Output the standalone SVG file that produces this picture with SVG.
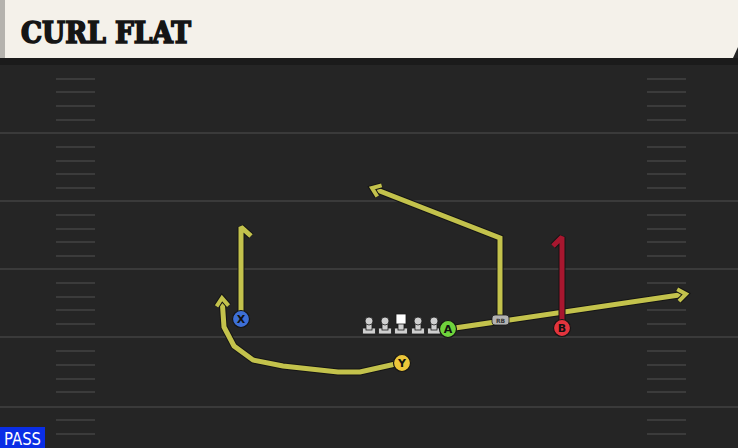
<svg xmlns="http://www.w3.org/2000/svg" width="738" height="448" viewBox="0 0 738 448">
<defs>
<style>
.yl{stroke:#3a3a3a;stroke-width:2}
.hm{stroke:#3b3b3b;stroke-width:2}
.ol{fill:none;stroke:#151515;stroke-width:7;stroke-linejoin:miter;stroke-linecap:butt}
.ry{fill:none;stroke:#c3c24c;stroke-width:5;stroke-linejoin:miter;stroke-linecap:butt}
.rr{fill:none;stroke:#a8172f;stroke-width:5;stroke-linejoin:bevel;stroke-linecap:butt}
.bv{stroke-linejoin:bevel}
.ring{stroke:#151515;stroke-width:1.2}
.lbl{font-family:"DejaVu Sans","Liberation Sans",sans-serif;font-weight:bold;font-size:11px;fill:#111;text-anchor:middle}
.lm{fill:#cfcfcf;stroke:#1a1a1a;stroke-width:0.8}
</style>
<marker id="arr" markerUnits="userSpaceOnUse" orient="auto" overflow="visible" markerWidth="1" markerHeight="1" refX="0" refY="0">
<path d="M-8,-6 L0,0 L-8,6" fill="none" stroke="#151515" stroke-width="6" stroke-linejoin="miter"/>
<path d="M-8,-6 L0,0 L-8,6" fill="none" stroke="#c3c24c" stroke-width="4" stroke-linejoin="miter"/>
</marker>
<g id="lineman">
<rect x="-6.5" y="11" width="13" height="6" rx="1" class="lm"/>
<rect x="-3" y="5" width="6" height="8" class="lm"/>
<circle cx="0" cy="4" r="4" class="lm"/>
</g>
</defs>
<rect x="0" y="0" width="738" height="448" fill="#252525"/>
<rect x="0" y="58" width="738" height="7" fill="#1b1b1b"/>
<g id="field">
<line x1="0" y1="133" x2="738" y2="133" class="yl"/>
<line x1="0" y1="201" x2="738" y2="201" class="yl"/>
<line x1="0" y1="269" x2="738" y2="269" class="yl"/>
<line x1="0" y1="337" x2="738" y2="337" class="yl"/>
<line x1="0" y1="407" x2="738" y2="407" class="yl"/>
<g class="hm">
<line x1="56" y1="79" x2="95" y2="79"/><line x1="56" y1="92" x2="95" y2="92"/><line x1="56" y1="106" x2="95" y2="106"/><line x1="56" y1="120" x2="95" y2="120"/>
<line x1="56" y1="147" x2="95" y2="147"/><line x1="56" y1="161" x2="95" y2="161"/><line x1="56" y1="174" x2="95" y2="174"/><line x1="56" y1="188" x2="95" y2="188"/>
<line x1="56" y1="215" x2="95" y2="215"/><line x1="56" y1="229" x2="95" y2="229"/><line x1="56" y1="242" x2="95" y2="242"/><line x1="56" y1="256" x2="95" y2="256"/>
<line x1="56" y1="283" x2="95" y2="283"/><line x1="56" y1="297" x2="95" y2="297"/><line x1="56" y1="310" x2="95" y2="310"/><line x1="56" y1="324" x2="95" y2="324"/>
<line x1="56" y1="351" x2="95" y2="351"/><line x1="56" y1="365" x2="95" y2="365"/><line x1="56" y1="379" x2="95" y2="379"/><line x1="56" y1="392" x2="95" y2="392"/>
<line x1="56" y1="420" x2="95" y2="420"/><line x1="56" y1="434" x2="95" y2="434"/>
<line x1="647" y1="79" x2="686" y2="79"/><line x1="647" y1="92" x2="686" y2="92"/><line x1="647" y1="106" x2="686" y2="106"/><line x1="647" y1="120" x2="686" y2="120"/>
<line x1="647" y1="147" x2="686" y2="147"/><line x1="647" y1="161" x2="686" y2="161"/><line x1="647" y1="174" x2="686" y2="174"/><line x1="647" y1="188" x2="686" y2="188"/>
<line x1="647" y1="215" x2="686" y2="215"/><line x1="647" y1="229" x2="686" y2="229"/><line x1="647" y1="242" x2="686" y2="242"/><line x1="647" y1="256" x2="686" y2="256"/>
<line x1="647" y1="283" x2="686" y2="283"/><line x1="647" y1="297" x2="686" y2="297"/><line x1="647" y1="310" x2="686" y2="310"/><line x1="647" y1="324" x2="686" y2="324"/>
<line x1="647" y1="351" x2="686" y2="351"/><line x1="647" y1="365" x2="686" y2="365"/><line x1="647" y1="379" x2="686" y2="379"/><line x1="647" y1="392" x2="686" y2="392"/>
<line x1="647" y1="420" x2="686" y2="420"/><line x1="647" y1="434" x2="686" y2="434"/>
</g>
</g>
<g id="header">
<rect x="0" y="0" width="5" height="58" fill="#b5b3ae"/>
<path d="M5,0 H738 V47 L733,58 H5 Z" fill="#f4f1ea"/>
<text x="21" y="43" font-family="'DejaVu Serif Condensed','DejaVu Serif','Liberation Serif',serif" font-weight="bold" font-size="30" fill="#151515" stroke="#151515" stroke-width="1.6" stroke-linejoin="miter" textLength="170" lengthAdjust="spacingAndGlyphs">CURL FLAT</text>
</g>
<g id="connectors">
<path class="ol bv" d="M241,319 V227 L251,236"/>
<path class="ry bv" d="M241,319 V227 L251,236"/>
<path class="ol" d="M400,363 L360,372 L338,372 L283,366 L253,360 L234,346 L224,327 L222,298"/>
<path class="ry" d="M400,363 L360,372 L338,372 L283,366 L253,360 L234,346 L224,327 L222,298" marker-end="url(#arr)"/>
<path class="ol" d="M448,329 L686,294"/>
<path class="ry" d="M448,329 L686,294" marker-end="url(#arr)"/>
<path class="ol" d="M500,320 V238 L372,188"/>
<path class="ry" d="M500,320 V238 L372,188" marker-end="url(#arr)"/>
<path class="ol bv" d="M562,328 V237 L553,246"/>
<path class="rr" d="M562,328 V237 L553,246"/>
</g>
<g id="line">
<use href="#lineman" x="369" y="317"/>
<use href="#lineman" x="385" y="317"/>
<g id="center">
<rect x="394.5" y="328" width="13" height="6" rx="1" class="lm"/>
<rect x="398" y="322" width="6" height="8" class="lm"/>
<rect x="396" y="314" width="10" height="10" fill="#ffffff" stroke="#1a1a1a" stroke-width="0.8"/>
</g>
<use href="#lineman" x="418" y="317"/>
<use href="#lineman" x="434" y="317"/>
</g>
<g id="rb">
<rect x="492" y="315" width="17" height="10" rx="3" fill="#b3b3b3" stroke="#1a1a1a" stroke-width="0.8"/>
<text x="500.5" y="322.5" font-family="'DejaVu Sans','Liberation Sans',sans-serif" font-weight="bold" font-size="6" fill="#333" text-anchor="middle">RB</text>
</g>
<g id="A">
<circle cx="448" cy="329" r="8.5" fill="#6fd33c" class="ring"/>
<text x="448" y="333" class="lbl">A</text>
</g>
<g id="B">
<circle cx="562" cy="328" r="8.5" fill="#e3343d" class="ring"/>
<text x="562" y="332" class="lbl">B</text>
</g>
<g id="X">
<circle cx="241" cy="319" r="8.5" fill="#3d6fd6" class="ring"/>
<text x="241" y="323" class="lbl">X</text>
</g>
<g id="Y">
<circle cx="402" cy="363" r="8.5" fill="#ecc63a" class="ring"/>
<text x="402" y="367" class="lbl">Y</text>
</g>
<g id="pass">
<rect x="0" y="427" width="45" height="21" fill="#0a2ee6"/>
<text x="4" y="445" font-family="'DejaVu Sans','Liberation Sans',sans-serif" font-size="17" fill="#ffffff" textLength="37" lengthAdjust="spacingAndGlyphs">PASS</text>
</g>
</svg>
